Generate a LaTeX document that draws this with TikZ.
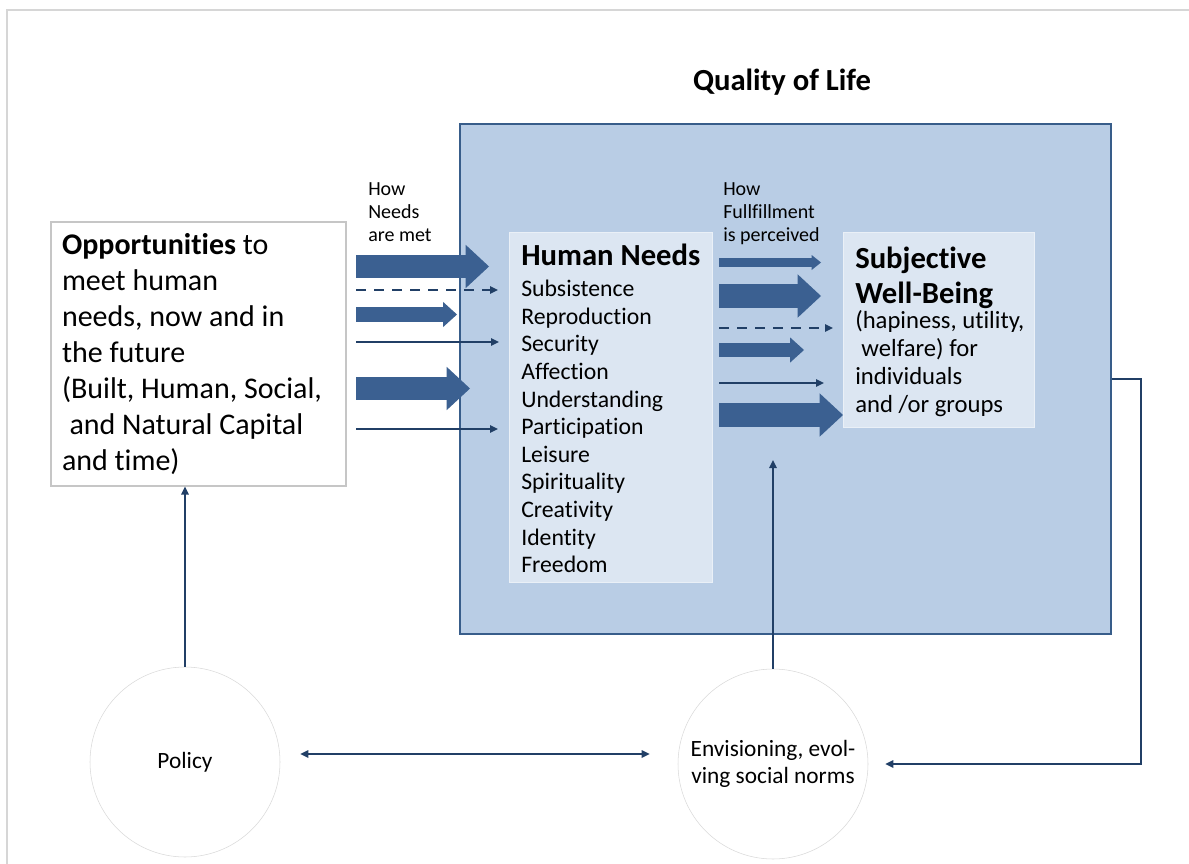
\documentclass[tikz,border=0pt]{standalone}
\usepackage{fontspec}
\setmainfont{Carlito}[Ligatures={NoCommon,NoContextual}]
\usetikzlibrary{arrows.meta,positioning}

\definecolor{qolblue}{HTML}{B9CDE5}
\definecolor{qoledge}{HTML}{385D8A}
\definecolor{paleblue}{HTML}{DCE6F2}
\definecolor{flowblue}{HTML}{3B6091}
\definecolor{linkblue}{HTML}{213F66}
\definecolor{framegray}{HTML}{D6D6D6}

\begin{document}
\begin{tikzpicture}[x=0.75pt,y=-0.75pt,
  bigbox/.style = {draw=qoledge, line width=2pt, fill=qolblue, minimum width=488.25pt, minimum height=382.5pt},
  oppbox/.style = {draw=gray!45, fill=white, line width=0.8pt, minimum width=221.25pt, minimum height=198pt,
    align=flush left, text width=204.75pt, inner xsep=8.25pt, font=\fontsize{22.5}{27.1}\selectfont},
  needbox/.style = {fill=paleblue, draw=paleblue!60!white, minimum width=152.25pt, minimum height=262.5pt},
  swbbox/.style = {fill=paleblue, draw=paleblue!60!white, minimum width=143.25pt, minimum height=146.25pt},
  headtxt/.style = {font=\bfseries\fontsize{23}{26.25}\selectfont, align=left, inner sep=0pt},
  bodytxt/.style = {font=\fontsize{17.8}{20.7}\selectfont, align=left, inner sep=0pt},
  notetxt/.style = {font=\fontsize{15}{17.25}\selectfont, align=left, inner sep=0pt},
  circnode/.style = {draw=gray!30, circle, fill=white, minimum size=142.5pt, align=center,
    font=\fontsize{17.5}{20.5}\selectfont},
  linkarrow/.style = {linkblue, line width=1.5pt, -{Triangle[length=6pt,width=5.5pt]}},
  fatflow/.style = {flowblue, line width=17.5pt, -{Triangle[length=17.5pt,width=32.5pt,line width=0pt]}},
  midflow/.style = {flowblue, line width=11pt, -{Triangle[length=10.5pt,width=19pt,line width=0pt]}},
  slimflow/.style = {flowblue, line width=6.75pt, -{Triangle[length=7pt,width=11.25pt,line width=0pt]}},
  thinflow/.style = {linkblue, line width=1.5pt, -{Triangle[length=6pt,width=5.5pt]}},
  dashflow/.style = {thinflow, dash pattern=on 7.5pt off 6pt}]
\useasboundingbox (0,0) rectangle (1189,864);
\draw[framegray, line width=1.5pt] (7,864) -- (7,10) -- (1189,10);

% quality of life frame
\node[bigbox] (qol) at (785.5,379) {};
\node[headtxt, anchor=base] (title) at (782,90) {Quality of Life};

% boxes
\node[oppbox] (opp) at (198.5,354) {\textbf{Opportunities} to\\meet human\\needs, now and in\\the future\\(Built, Human, Social,\\\hspace{0.25em}and Natural Capital\\and time)};
\node[needbox] (hn) at (611,407) {};
\node[headtxt, anchor=base west] (hnhead) at (521,265) {Human Needs};
\node[bodytxt, anchor=north west] (hnlist) at (521,280) {Subsistence\\Reproduction\\Security\\Affection\\Understanding\\Participation\\Leisure\\Spirituality\\Creativity\\Identity\\Freedom};
\node[swbbox] (swb) at (938.5,329.5) {};
\node[headtxt, anchor=north west] (swbhead) at (855,247) {Subjective\\Well-Being};
\node[bodytxt, font=\fontsize{18.5}{21}\selectfont, anchor=north west] (swbtext) at (855,310) {(hapiness, utility,\\\hspace{0.25em}welfare) for\\individuals\\and /or groups};
\node[notetxt, anchor=north west] (howmet) at (368,182) {How\\Needs\\are met};
\node[notetxt, anchor=north west] (howperc) at (723,182) {How\\Fullfillment\\is perceived};

% circles
\node[circnode] (pol) at (185,762) {Policy};
\node[circnode] (env) at (773,764) {Envisioning, evol-\\ving social norms};

% flows into needs
\draw[fatflow] (356,266.5) -- (489,266.5);
\draw[dashflow] (356,290) -- (498,290);
\draw[midflow] (356,314.5) -- (457,314.5);
\draw[thinflow] (356,342) -- (499,342);
\draw[fatflow] (356,388.5) -- (470,388.5);
\draw[thinflow] (356,429) -- (498,429);

% flows into well-being
\draw[slimflow] (719,262.5) -- (821,262.5);
\draw[fatflow] (719,296) -- (821,296);
\draw[dashflow] (719,328) -- (833,328);
\draw[midflow] (719,350) -- (804,350);
\draw[thinflow] (719,383) -- (824,383);
\draw[fatflow] (719,415) -- (843,415);

% feedback
\coordinate (perc) at (773,460);
\draw[linkarrow] (pol.north) -- (pol.north |- opp.south);
\draw[linkarrow] (env.north) -- (perc);
\draw[linkarrow, {Triangle[length=6pt,width=5.5pt]}-{Triangle[length=6pt,width=5.5pt]}, shorten <=15pt, shorten >=21pt]
  ([yshift=6pt]pol.east) -- ([yshift=6pt]pol.east -| env.west);
\draw[linkarrow, shorten >=12.75pt] (qol.east) -- ++(29,0) |- (env.east);
\end{tikzpicture}
\end{document}
